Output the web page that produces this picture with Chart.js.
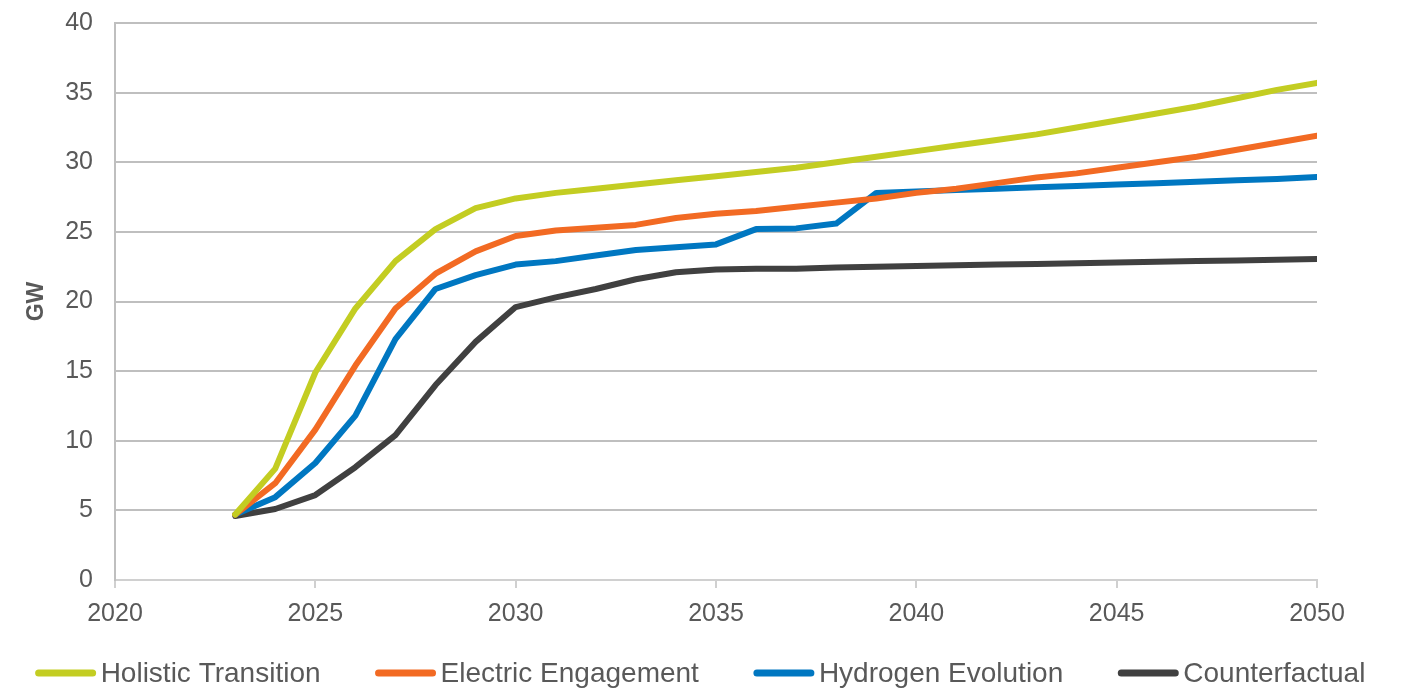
<!DOCTYPE html>
<html>
<head>
<meta charset="utf-8">
<script src="https://cdn.jsdelivr.net/npm/chart.js@4"></script>
<style>
  html, body { margin: 0; padding: 0; background: #fff; }
  #wrap { width: 1401px; height: 688px; position: relative; overflow: hidden; }
  #inner { position: absolute; left: 0; top: -14px; width: 1401px; height: 702px; }
</style>
</head>
<body>
<div id="wrap"><div id="inner"><canvas id="myChart"></canvas></div></div>
<script>
const years = [2023, 2024, 2025, 2026, 2027, 2028, 2029, 2030, 2031, 2032, 2033, 2034, 2035, 2036,
    2037, 2038, 2039, 2040, 2041, 2042, 2043, 2044, 2045, 2046, 2047, 2048, 2049, 2050];

const holistic = [4.7, 8.0, 14.9, 19.5, 22.9, 25.2, 26.7, 27.4, 27.8, 28.1, 28.4, 28.7, 29.0, 29.3,
    29.6, 30.0, 30.4, 30.8, 31.2, 31.6, 32.0, 32.5, 33.0, 33.5, 34.0, 34.6, 35.2, 35.7];
const electric = [4.7, 6.95, 10.8, 15.4, 19.5, 22.0, 23.6, 24.7, 25.1, 25.3, 25.5, 26.0, 26.3, 26.5,
    26.8, 27.1, 27.4, 27.8, 28.1, 28.5, 28.9, 29.2, 29.6, 30.0, 30.4, 30.9, 31.4, 31.9];
const hydrogen = [4.7, 5.95, 8.4, 11.8, 17.3, 20.9, 21.9, 22.65, 22.9, 23.3, 23.7, 23.9, 24.1, 25.2,
    25.25, 25.6, 27.8, 27.9, 28.0, 28.1, 28.2, 28.3, 28.4, 28.5, 28.6, 28.7, 28.8, 28.95];
const counterfactual = [4.6, 5.1, 6.1, 8.1, 10.4, 14.0, 17.1, 19.6, 20.3, 20.9, 21.6, 22.1, 22.3, 22.35,
    22.35, 22.45, 22.5, 22.55, 22.6, 22.65, 22.7, 22.75, 22.8, 22.85, 22.9, 22.95, 23.0, 23.05];

const seriesNames = ['Holistic Transition', 'Electric Engagement', 'Hydrogen Evolution', 'Counterfactual'];
const seriesColors = ['#C3CD22', '#F26A23', '#0077C1', '#404040'];

const textColor = '#595959';
const font = 'Liberation Sans, Arial, sans-serif';

function toPoints(vals) {
    return vals.map((v, i) => ({ x: years[i], y: v }));
}

const allSeries = [holistic, electric, hydrogen, counterfactual];
const datasets = allSeries.map((vals, i) => ({
    label: seriesNames[i],
    data: toPoints(vals),
    borderColor: seriesColors[i],
    backgroundColor: seriesColors[i],
    borderWidth: 6,
    borderCapStyle: 'round',
    borderJoinStyle: 'round',
    pointRadius: 0,
    tension: 0,
    fill: false
}));

// legend drawn below the plot, line swatch + label
const bottomLegend = {
    id: 'bottomLegend',
    afterDraw(chart) {
        const ctx = chart.ctx;
        const sw = 60, gap = 5, between = 55;
        ctx.save();
        ctx.font = '28px ' + font;
        const widths = seriesNames.map(n => sw + gap + ctx.measureText(n).width);
        const total = widths.reduce((a, b) => a + b, 0) + between * (widths.length - 1);
        let x = (chart.width - total) / 2;
        const y = chart.height - 15;
        seriesNames.forEach((name, i) => {
            ctx.strokeStyle = seriesColors[i];
            ctx.lineWidth = 7;
            ctx.lineCap = 'round';
            ctx.beginPath();
            ctx.moveTo(x + 3, y);
            ctx.lineTo(x + sw - 3, y);
            ctx.stroke();
            ctx.fillStyle = textColor;
            ctx.textBaseline = 'middle';
            ctx.textAlign = 'left';
            ctx.fillText(name, x + sw + gap, y + 1);
            x += widths[i] + between;
        });
        ctx.restore();
    }
};

const ctx = document.getElementById('myChart');

new Chart(ctx, {
    type: 'line',
    data: { datasets: datasets },
    options: {
        responsive: true,
        maintainAspectRatio: false,
        animation: false,
        layout: {
            padding: { top: 0, right: 84, bottom: 58, left: 0 }
        },
        plugins: {
            legend: { display: false },
            tooltip: { enabled: false }
        },
        scales: {
            x: {
                type: 'linear',
                min: 2020,
                max: 2050,
                afterFit(scale) { scale.height = 50; },
                ticks: {
                    stepSize: 5,
                    color: textColor,
                    padding: 11,
                    maxRotation: 0,
                    font: { family: font, size: 25 },
                    callback: v => String(v)
                },
                grid: {
                    drawOnChartArea: false,
                    drawTicks: true,
                    tickLength: 8,
                    color: '#D0D0D0',
                    lineWidth: 2
                },
                border: { color: '#D0D0D0', width: 2 }
            },
            y: {
                min: 0,
                max: 40,
                afterFit(scale) { scale.width = 115; },
                ticks: {
                    stepSize: 5,
                    color: textColor,
                    padding: 22,
                    font: { family: font, size: 25 }
                },
                grid: {
                    drawTicks: false,
                    color: '#BFBFBF',
                    lineWidth: 2
                },
                border: { color: '#BFBFBF', width: 2 },
                title: {
                    display: true,
                    text: 'GW',
                    color: textColor,
                    padding: { top: 23, bottom: 0 },
                    font: { family: font, size: 23, weight: 'bold' }
                }
            }
        }
    },
    plugins: [bottomLegend]
});
</script>
</body>
</html>
